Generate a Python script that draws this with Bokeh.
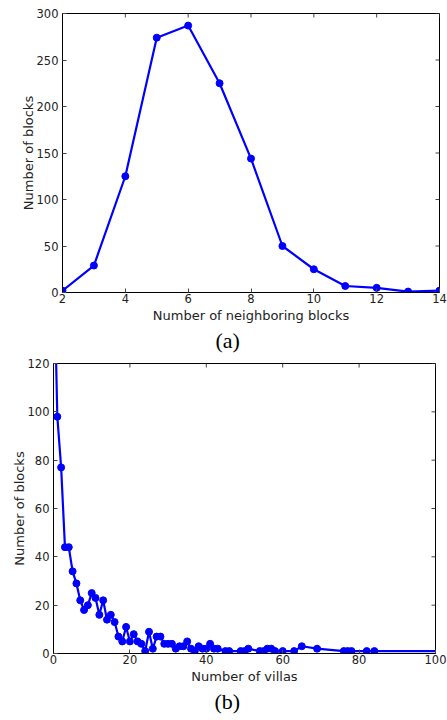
import math
from bokeh.plotting import figure
from bokeh.layouts import column, row
from bokeh.models import FixedTicker, Range1d, Title
from bokeh.embed import file_html
from bokeh.resources import INLINE

# (a) distribution of number of neighboring blocks
neighbors = [2, 3, 4, 5, 6, 7, 8, 9, 10, 11, 12, 13, 14]
blocks_a = [2, 29, 125, 274, 287, 225, 144, 50, 25, 7, 5, 1, 2]
xticks_a = [2, 4, 6, 8, 10, 12, 14]
yticks_a = [0, 50, 100, 150, 200, 250, 300]

# (b) distribution of number of villas
villas = [0, 1, 2, 3, 4, 5, 6, 7, 8, 9, 10, 11, 12, 13, 14, 15, 16, 17, 18, 19,
          20, 21, 22, 23, 24, 25, 26, 27, 28, 29, 30, 31, 32, 33, 34, 35, 36, 37,
          38, 39, 40, 41, 42, 43, 45, 46, 49, 50, 51, 54, 55, 56, 57, 58, 60, 63,
          65, 69, 76, 77, 78, 82, 84, 106]
blocks_b = [170, 98, 77, 44, 44, 34, 29, 22, 18, 20, 25, 23, 16, 22, 14, 16, 13, 7, 5, 11,
            5, 8, 5, 4, 1, 9, 2, 7, 7, 4, 4, 4, 2, 3, 3, 5, 2, 1,
            3, 2, 2, 4, 2, 2, 1, 1, 1, 1, 2, 1, 1, 2, 2, 1, 1, 1,
            3, 2, 1, 1, 1, 1, 1, 1]
xticks_b = [0, 20, 40, 60, 80, 100]
yticks_b = [0, 20, 40, 60, 80, 100, 120]

FONT = "DejaVu Sans"
TICK_SIZE = "11.5px"
LABEL_SIZE = "13px"
BLUE = "#0000ff"
TICK_COLOR = "#444444"


def style_axis(ax, label, standoff, tick_standoff):
    ax.axis_line_color = "black"
    ax.major_tick_in = 4
    ax.major_tick_out = 0
    ax.major_tick_line_color = TICK_COLOR
    ax.minor_tick_line_color = None
    ax.major_label_text_font = FONT
    ax.major_label_text_color = "#222222"
    ax.major_label_text_font_size = TICK_SIZE
    ax.major_label_standoff = tick_standoff
    ax.axis_label = label
    ax.axis_label_text_font = FONT
    ax.axis_label_text_font_size = LABEL_SIZE
    ax.axis_label_text_font_style = "normal"
    ax.axis_label_text_color = "#222222"
    ax.axis_label_standoff = standoff


def make_fig(x, y, xr, yr, xticks, yticks, xlabel, ylabel, height, borders, caption,
             cap_offset):
    p = figure(width=447, height=height, output_backend="svg", toolbar_location=None,
               x_range=Range1d(*xr), y_range=Range1d(*yr),
               min_border_left=borders[0], min_border_right=borders[1],
               min_border_top=borders[2], min_border_bottom=borders[3])
    p.grid.visible = False
    p.outline_line_color = "black"
    p.outline_line_width = 1
    p.xaxis.ticker = FixedTicker(ticks=xticks)
    p.yaxis.ticker = FixedTicker(ticks=yticks)
    style_axis(p.xaxis[0], xlabel, 2, 1)
    style_axis(p.yaxis[0], ylabel, -2, 4)
    # inward tick marks on the top and right edges (matplotlib classic style)
    p.ray(x=xticks, y=[yr[1]] * len(xticks), length=4, angle=-math.pi / 2,
          length_units="screen", line_color=TICK_COLOR, line_width=1)
    p.ray(x=[xr[1]] * len(yticks), y=yticks, length=4, angle=math.pi,
          length_units="screen", line_color=TICK_COLOR, line_width=1)
    p.line(x, y, line_color=BLUE, line_width=2.2)
    p.scatter(x, y, size=7, fill_color=BLUE, line_color=BLUE)
    t = Title(text=caption, align="left", offset=cap_offset, standoff=0,
              text_font="Liberation Serif", text_font_size="22px",
              text_font_style="normal", text_color="black")
    p.add_layout(t, "below")
    return p


pa = make_fig(neighbors, blocks_a, (2, 14), (0, 300), xticks_a, yticks_a,
              "Number of neighboring blocks", "Number of blocks",
              358, (62, 8, 13, 66), "(a)", 153)
pb = make_fig(villas, blocks_b, (0, 100), (0, 120), xticks_b, yticks_b,
              "Number of villas", "Number of blocks",
              362, (53, 12, 5, 67), "(b)", 161)

layout = column(row(pa), row(pb))
open("out.html", "w").write(file_html(layout, INLINE))
